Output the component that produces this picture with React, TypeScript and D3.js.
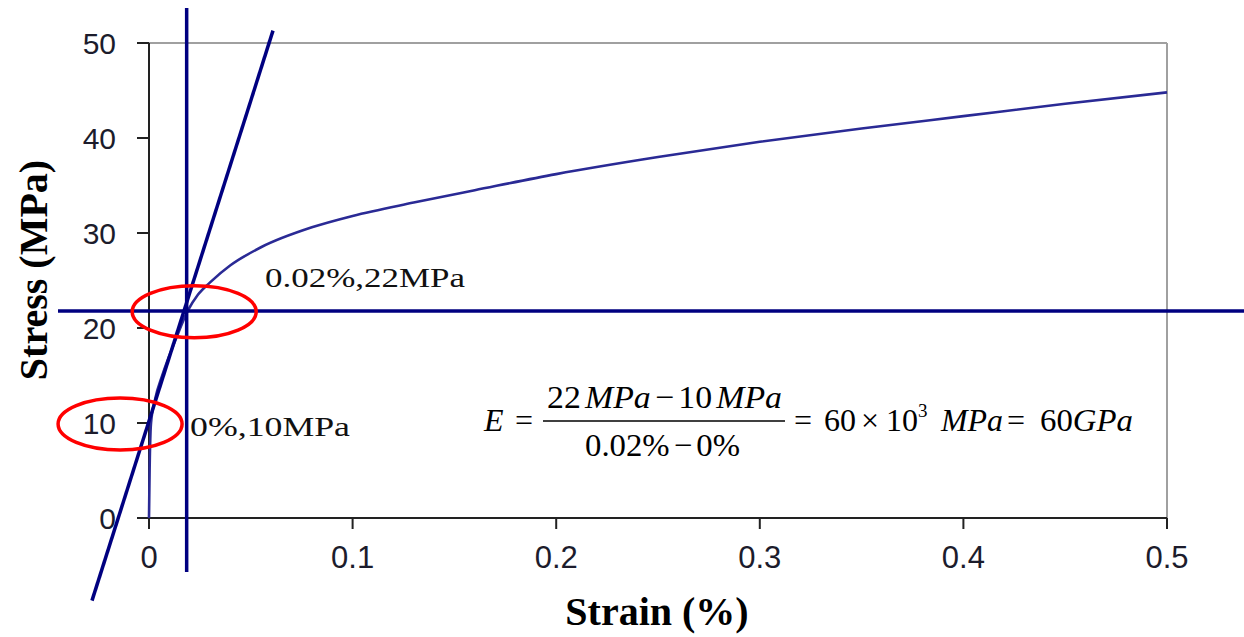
import React from "react";
import * as d3 from "d3";

// ---- data ----
const strainPct = [0, 0.0003, 0.001, 0.003, 0.0065, 0.0135, 0.019, 0.024, 0.03, 0.04, 0.055, 0.08, 0.1, 0.13, 0.16, 0.2, 0.25, 0.3, 0.35, 0.4, 0.45, 0.5];
const stressMPa = [0, 5, 10, 12.5, 15, 19, 21.8, 23.5, 24.8, 26.6, 28.5, 30.6, 31.8, 33.2, 34.5, 36.2, 38, 39.6, 41, 42.3, 43.6, 44.8];
const xTicks = [0, 0.1, 0.2, 0.3, 0.4, 0.5];
const xTickLabels = ["0", "0.1", "0.2", "0.3", "0.4", "0.5"];
const yTicks = [0, 10, 20, 30, 40, 50];
const yTickLabels = ["0", "10", "20", "30", "40", "50"];
// construction lines (data units)
const markStrain = 0.0185;
const markStress = 21.8;
const tangentPts: [number, number][] = [[-0.028, -8.7], [0.0609, 51.3]];
const ellipseCenters: [number, number][] = [[0.0222, 21.7], [-0.0142, 9.9]];
const labelTexts = ["0.02%,22MPa", "0%,10MPa"];

const W = 1244, H = 637;
const x = d3.scaleLinear().domain([0, 0.5]).range([149, 1167]);
const y = d3.scaleLinear().domain([0, 50]).range([518, 43]);

const NAVY = "#000080";

export default function App() {
  const pts = strainPct.map((s, i) => [s, stressMPa[i]] as [number, number]);
  const line = d3.line<[number, number]>().x(d => x(d[0])).y(d => y(d[1])).curve(d3.curveMonotoneX);
  const tick = "Liberation Sans, Arial, sans-serif";
  const serif = "Liberation Serif, Times New Roman, serif";
  return (
    <svg width={W} height={H} style={{ position: "absolute", left: 0, top: 0, background: "#fff" }}>
      {/* frame */}
      <line x1={x(0)} x2={x(0.5)} y1={y(50)} y2={y(50)} stroke="#a0a0a0" strokeWidth={2} />
      <line x1={x(0.5)} x2={x(0.5)} y1={y(50)} y2={y(0)} stroke="#a0a0a0" strokeWidth={2} />
      {/* axes */}
      <line x1={x(0)} x2={x(0)} y1={y(50)} y2={y(0)} stroke="#222" strokeWidth={2} />
      <line x1={x(0)} x2={x(0.5)} y1={y(0)} y2={y(0)} stroke="#222" strokeWidth={2} />
      {yTicks.map((t, i) => (
        <g key={"y" + i}>
          <line x1={x(0) - 12} x2={x(0)} y1={y(t)} y2={y(t)} stroke="#222" strokeWidth={2} />
          <text x={116} y={y(t)} dy="0.36em" textAnchor="end" fontFamily={tick} fontSize={30} fill="#1c1c2c">{yTickLabels[i]}</text>
        </g>
      ))}
      {xTicks.map((t, i) => (
        <g key={"x" + i}>
          <line x1={x(t)} x2={x(t)} y1={y(0)} y2={y(0) + 11} stroke="#222" strokeWidth={2} />
          <text x={x(t)} y={568} textAnchor="middle" fontFamily={tick} fontSize={31} fill="#1c1c2c">{xTickLabels[i]}</text>
        </g>
      ))}
      {/* curve */}
      <path d={line(pts) || ""} fill="none" stroke="#2a2a95" strokeWidth={2.6} />
      {/* construction lines */}
      <line x1={x(markStrain)} x2={x(markStrain)} y1={8} y2={572} stroke={NAVY} strokeWidth={3.5} />
      <line x1={58} x2={W} y1={y(markStress)} y2={y(markStress)} stroke={NAVY} strokeWidth={3.5} />
      <line x1={x(tangentPts[0][0])} y1={y(tangentPts[0][1])} x2={x(tangentPts[1][0])} y2={y(tangentPts[1][1])} stroke={NAVY} strokeWidth={3.5} />
      {/* ellipses */}
      {ellipseCenters.map((c, i) => (
        <ellipse key={"e" + i} cx={x(c[0])} cy={y(c[1])} rx={62} ry={26} fill="none" stroke="#ff0000" strokeWidth={3.5} />
      ))}
      {/* point labels */}
      <text x={265} y={287} fontFamily={serif} fontSize={28} fill="#111" textLength={200} lengthAdjust="spacingAndGlyphs">{labelTexts[0]}</text>
      <text x={190} y={436} fontFamily={serif} fontSize={27} fill="#111" textLength={160} lengthAdjust="spacingAndGlyphs">{labelTexts[1]}</text>
      {/* formula */}
      <g fontFamily={serif} fontSize={32} fill="#000">
        <text x={484} y={431} fontStyle="italic">E</text>
        <text x={515} y={431}>=</text>
        <text x={547} y={408} textLength={235} lengthAdjust="spacingAndGlyphs">
          22<tspan fontStyle="italic" dx={4}>MPa</tspan><tspan dx={4}>−</tspan><tspan dx={4}>10</tspan><tspan fontStyle="italic" dx={4}>MPa</tspan>
        </text>
        <line x1={543} x2={785} y1={421} y2={421} stroke="#000" strokeWidth={1.6} />
        <text x={585} y={456} textLength={155} lengthAdjust="spacingAndGlyphs">
          0.02%<tspan dx={4}>−</tspan><tspan dx={4}>0%</tspan>
        </text>
        <text x={794} y={431}>=</text>
        <text x={824} y={431}>60</text>
        <text x={861} y={431}>×</text>
        <text x={886} y={431}>10</text>
        <text x={918} y={417} fontSize={19}>3</text>
        <text x={941} y={431} fontStyle="italic" textLength={62} lengthAdjust="spacingAndGlyphs">MPa</text>
        <text x={1007} y={431}>=</text>
        <text x={1040} y={431} textLength={93} lengthAdjust="spacingAndGlyphs">60<tspan fontStyle="italic">GPa</tspan></text>
      </g>
      {/* axis titles */}
      <text x={657} y={625} textAnchor="middle" fontFamily={serif} fontWeight="bold" fontSize={40} fill="#000">Strain (%)</text>
      <text transform="translate(47,270) rotate(-90)" textAnchor="middle" fontFamily={serif} fontWeight="bold" fontSize={40} fill="#000">Stress (MPa)</text>
    </svg>
  );
}
